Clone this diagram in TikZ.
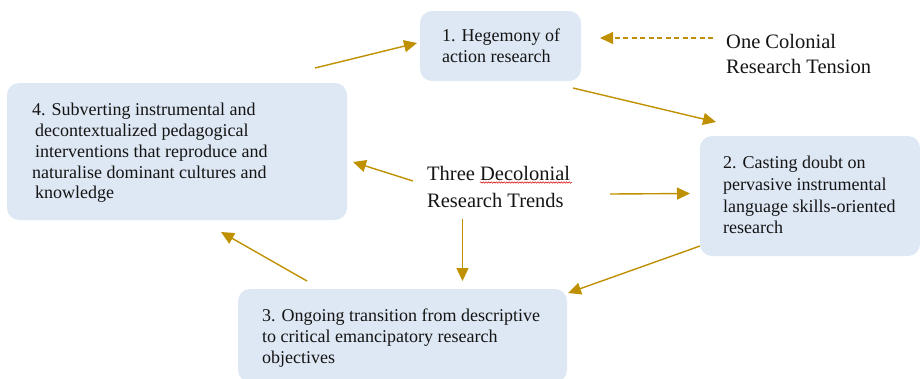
\documentclass[tikz,border=0pt]{standalone}
\usepackage{fontspec}
\setmainfont{Liberation Serif}
\newfontfamily\diagserif{Liberation Serif}
\usetikzlibrary{arrows.meta,decorations.pathmorphing}
\definecolor{boxblue}{HTML}{DEE8F4}
\definecolor{gold}{HTML}{BF9000}
\definecolor{ink}{HTML}{141414}
\tikzset{
  box/.style={rounded corners=12pt, fill=boxblue, draw=none, inner sep=0pt, rectangle},
  boxtext/.style={anchor=west, align=left, inner sep=0pt, text=ink, font=\diagserif\fontsize{18}{21}\selectfont},
  labeltext/.style={anchor=west, align=left, inner sep=0pt, text=ink, font=\diagserif\fontsize{20.5}{26}\selectfont},
  conn/.style={draw=gold, line width=1.4pt, -{Triangle[length=13pt,width=12pt]}},
  dconn/.style={conn, dash pattern=on 5pt off 3.5pt, line width=1.1pt},
}
\begin{document}
\begin{tikzpicture}[x=1pt,y=-1pt]
\useasboundingbox (0,0) rectangle (920,378);
\clip (0,0) rectangle (920,378);
% boxes
\node[box, minimum width=161pt, minimum height=70pt] (b1) at (500.5,46) {};
\node[boxtext] (t1) at (442,46) {1. Hegemony of\\action research};
\node[box, minimum width=220pt, minimum height=120pt] (b2) at (810,196) {};
\node[boxtext, font=\diagserif\fontsize{18}{21.7}\selectfont] (t2) at (723,195) {2. Casting doubt on\\pervasive instrumental\\language skills-oriented\\research};
\node[box, minimum width=329pt, minimum height=93pt] (b3) at (402.5,335.5) {};
\node[boxtext] (t3) at (262,338) {3. Ongoing transition from descriptive\\to critical emancipatory research\\objectives};
\node[box, minimum width=340pt, minimum height=137pt] (b4) at (177,151.5) {};
\node[boxtext, font=\diagserif\fontsize{18}{20.8}\selectfont] (t4) at (32,153) {4. Subverting instrumental and\\\hspace*{3pt}decontextualized pedagogical\\\hspace*{3pt}interventions that reproduce and\\naturalise dominant cultures and\\\hspace*{3pt}knowledge};
% labels
\node[labeltext, font=\diagserif\fontsize{20.5}{27}\selectfont] (trends) at (427,187) {Three Decolonial\\Research Trends};
\node[labeltext, font=\diagserif\fontsize{20.5}{25}\selectfont] (tension) at (726,54) {One Colonial\\Research Tension};
% spelling squiggle
\draw[red!85!black, line width=0.5pt, decorate, decoration={snake, amplitude=0.7pt, segment length=2.6pt}] (480,182.5) -- (572,182.5);
% connector end points
\coordinate (c4a) at (315,68);  \coordinate (c1a) at (417,43);
\coordinate (cta) at (713,38);  \coordinate (c1b) at (600,38);
\coordinate (c1c) at (573,88);  \coordinate (c2a) at (716,122);
\coordinate (ctr1) at (413,181); \coordinate (c4b) at (353,162);
\coordinate (ctr2) at (610,194); \coordinate (c2b) at (690,193.5);
\coordinate (ctr3) at (462.5,219); \coordinate (c3a) at (462.5,281);
\coordinate (c2c) at (700,246); \coordinate (c3b) at (568,293);
\coordinate (c3c) at (307,281); \coordinate (c4c) at (221,232);
% connectors
\draw[conn] (c4a) -- (c1a);
\draw[dconn] (cta) -- (c1b);
\draw[conn] (c1c) -- (c2a);
\draw[conn] (ctr1) -- (c4b);
\draw[conn] (ctr2) -- (c2b);
\draw[conn] (ctr3) -- (c3a);
\draw[conn] (c2c) -- (c3b);
\draw[conn] (c3c) -- (c4c);
\end{tikzpicture}
\end{document}
